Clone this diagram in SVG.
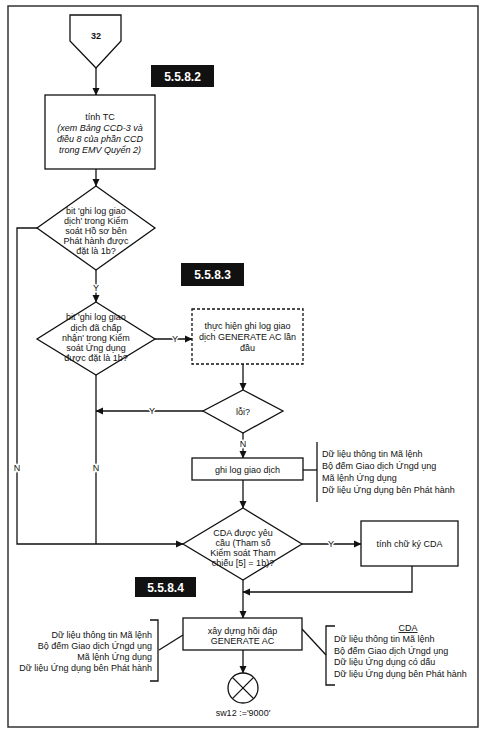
<svg xmlns="http://www.w3.org/2000/svg" width="485" height="730" viewBox="0 0 485 730">
<defs>
<marker id="ah" markerWidth="8" markerHeight="8" refX="7" refY="4" orient="auto" markerUnits="userSpaceOnUse">
<path d="M0,0.5 L7.5,4 L0,7.5 Z" fill="#111"/>
</marker>
<style>
.sh{fill:#fff;stroke:#111;stroke-width:1.3}
.dash{fill:#fff;stroke:#111;stroke-width:1.3;stroke-dasharray:3,2}
.ln{fill:none;stroke:#111;stroke-width:1.3}
.ar{fill:none;stroke:#111;stroke-width:1.3;marker-end:url(#ah)}
text{font-family:"Liberation Sans",Arial,sans-serif;font-size:9px;fill:#111}
.c{text-anchor:middle}
.r{text-anchor:end}
.i{font-style:italic}
.lbl{text-anchor:middle;paint-order:stroke;stroke:#fff;stroke-width:3px}
.tag{fill:#111}
.tagt{fill:#fff;font-weight:bold;font-size:12px;text-anchor:middle}
</style>
</defs>
<rect x="8" y="6" width="470" height="721" fill="#fff" stroke="#333" stroke-width="1.5"/>

<g id="connectors">
<line class="ar" x1="96" y1="68" x2="96" y2="95"/>
<line class="ar" x1="96" y1="169" x2="96" y2="186"/>
<line class="ar" x1="96" y1="270" x2="96" y2="302"/>
<polyline class="ar" points="37,228 17,228 17,544 183,544"/>
<line class="ln" x1="96" y1="375" x2="96" y2="544"/>
<line class="ar" x1="155" y1="339" x2="192" y2="339"/>
<line class="ar" x1="243" y1="364" x2="243" y2="390"/>
<line class="ar" x1="203" y1="411" x2="96" y2="411"/>
<line class="ar" x1="243" y1="433" x2="243" y2="458"/>
<line class="ar" x1="243" y1="480" x2="243" y2="508"/>
<line class="ln" x1="303" y1="470" x2="317" y2="470"/>
<line class="ar" x1="302" y1="544" x2="361" y2="544"/>
<polyline class="ar" points="412,566 412,592 243,592"/>
<line class="ar" x1="243" y1="580" x2="243" y2="618"/>
<line class="ar" x1="243" y1="650" x2="243" y2="673"/>
<line class="ln" x1="183" y1="635" x2="159" y2="650"/>
<line class="ln" x1="302" y1="629" x2="326" y2="655"/>
<text class="lbl" x="96" y="291">Y</text>
<text class="lbl" x="17" y="471">N</text>
<text class="lbl" x="96" y="471">N</text>
<text class="lbl" x="175" y="342">Y</text>
<text class="lbl" x="152" y="414">Y</text>
<text class="lbl" x="243" y="447">N</text>
<text class="lbl" x="331" y="547">Y</text>
</g>

<g id="n32">
<polygon class="sh" points="70,15 121,15 121,41 96,68 70,41"/>
<text class="c" x="96" y="39" font-weight="bold">32</text>
</g>

<g id="tag5582">
<rect class="tag" x="151" y="65" width="63" height="22"/>
<text class="tagt" x="182.5" y="80.5">5.5.8.2</text>
</g>

<g id="tinhTC">
<rect class="sh" x="45" y="95" width="110" height="74"/>
<text class="c" x="100" y="120">tính TC</text>
<text class="c i" x="100" y="131">(xem Bảng CCD-3 và</text>
<text class="c i" x="100" y="142">điều 8 của phần CCD</text>
<text class="c i" x="100" y="153">trong EMV Quyển 2)</text>
</g>

<g id="d1">
<polygon class="sh" points="96,186 155,228 96,270 37,228"/>
<text class="c" x="96" y="214">bit 'ghi log giao</text>
<text class="c" x="96" y="224">dịch' trong Kiểm</text>
<text class="c" x="96" y="234">soát Hồ sơ bên</text>
<text class="c" x="96" y="244">Phát hành được</text>
<text class="c" x="96" y="254">đặt là 1b?</text>
</g>

<g id="tag5583">
<rect class="tag" x="181" y="263" width="63" height="23"/>
<text class="tagt" x="212.5" y="279">5.5.8.3</text>
</g>

<g id="d2">
<polygon class="sh" points="96,302 155,339 96,375 37,339"/>
<text class="c" x="96" y="320">bit 'ghi log giao</text>
<text class="c" x="96" y="331">dịch đã chấp</text>
<text class="c" x="96" y="341">nhận' trong Kiểm</text>
<text class="c" x="96" y="351">soát Ứng dụng</text>
<text class="c" x="96" y="361">được đặt là 1b?</text>
</g>

<g id="firstLog">
<rect class="dash" x="192" y="309" width="111" height="55"/>
<text class="c" x="247.5" y="329">thực hiện ghi log giao</text>
<text class="c" x="247.5" y="340">dịch GENERATE AC lần</text>
<text class="c" x="247.5" y="351">đầu</text>
</g>

<g id="loi">
<polygon class="sh" points="243,390 283,411 243,433 203,411"/>
<text class="c" x="243" y="415">lỗi?</text>
</g>

<g id="ghiLog">
<rect class="sh" x="192" y="458" width="111" height="22"/>
<text class="c" x="247.5" y="473">ghi log giao dịch</text>
<line class="ln" x1="317" y1="442" x2="317" y2="502"/>
<text x="322" y="457">Dữ liệu thông tin Mã lệnh</text>
<text x="322" y="469">Bộ đếm Giao dịch Ứngd ụng</text>
<text x="322" y="481">Mã lệnh Ứng dụng</text>
<text x="322" y="493">Dữ liệu Ứng dụng bên Phát hành</text>
</g>

<g id="cda">
<polygon class="sh" points="243,508 302,544 243,580 183,544"/>
<text class="c" x="243" y="536">CDA được yêu</text>
<text class="c" x="243" y="546">cầu (Tham số</text>
<text class="c" x="243" y="556">Kiểm soát Tham</text>
<text class="c" x="243" y="566">chiếu [5] = 1b)?</text>
</g>

<g id="tinhCDA">
<rect class="sh" x="361" y="521" width="97" height="45"/>
<text class="c" x="409.5" y="547">tính chữ ký CDA</text>
</g>

<g id="tag5584">
<rect class="tag" x="135" y="577" width="61" height="20"/>
<text class="tagt" x="165.5" y="591.5">5.5.8.4</text>
</g>

<g id="build">
<rect class="sh" x="183" y="618" width="119" height="32"/>
<text class="c" x="242.5" y="634">xây dựng hồi đáp</text>
<text class="c" x="242.5" y="644">GENERATE AC</text>
</g>

<g id="leftData">
<polyline class="ln" points="150,620 158,620 158,681 150,681"/>
<text class="r" x="152" y="638">Dữ liệu thông tin Mã lệnh</text>
<text class="r" x="152" y="649">Bộ đếm Giao dịch Ứngd ụng</text>
<text class="r" x="152" y="660">Mã lệnh Ứng dụng</text>
<text class="r" x="152" y="671">Dữ liệu Ứng dụng bên Phát hành</text>
</g>

<g id="rightData">
<polyline class="ln" points="335,626 326,626 326,685 335,685"/>
<text class="c" x="408" y="631" text-decoration="underline">CDA</text>
<text x="334" y="642">Dữ liệu thông tin Mã lệnh</text>
<text x="334" y="653.5">Bộ đếm Giao dịch Ứngd ụng</text>
<text x="334" y="665">Dữ liệu Ứng dụng có dấu</text>
<text x="334" y="676.5">Dữ liệu Ứng dụng bên Phát hành</text>
</g>

<g id="end">
<circle class="sh" cx="243" cy="688" r="15"/>
<line class="ln" x1="232.4" y1="677.4" x2="253.6" y2="698.6"/>
<line class="ln" x1="253.6" y1="677.4" x2="232.4" y2="698.6"/>
<text class="c" x="243" y="716">sw12 :='9000'</text>
</g>
</svg>
